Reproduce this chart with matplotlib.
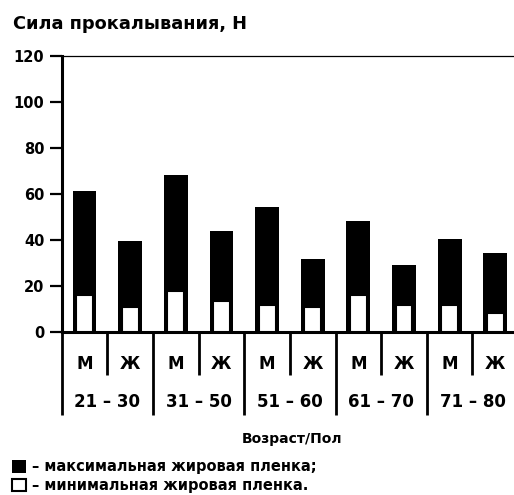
import numpy as np
import matplotlib
matplotlib.use('Agg')
import matplotlib.pyplot as plt
from matplotlib.transforms import blended_transform_factory

plt.rcParams['font.family'] = ['DejaVu Sans']

sexes = ['М', 'Ж'] * 5
age_groups = ['21 – 30', '31 – 50', '51 – 60', '61 – 70', '71 – 80']
max_film = [61, 39.5, 68, 43.7, 54, 31.5, 48, 29, 40.2, 34]
min_film = [16, 10.7, 17.7, 13.3, 11.6, 10.7, 16, 11.6, 11.6, 8.1]

x = np.arange(len(sexes))

fig = plt.figure(figsize=(5.14, 4.95), dpi=100)
ax = fig.add_axes([0.12, 0.33, 0.888, 0.5576])

b_max = ax.bar(x, max_film, width=0.52, color='black', zorder=2)
b_min = ax.bar(x, min_film, width=0.37, color='white', edgecolor='black',
               linewidth=1.5, zorder=3)

ax.set_xlim(-0.5, len(x) - 0.5)
ax.set_ylim(0, 120)
ax.set_yticks(range(0, 121, 20))
ax.tick_params(axis='y', length=8.5, width=1.6, pad=4, labelsize=10.5)
for lab in ax.get_yticklabels():
    lab.set_fontweight('bold')

ax.set_xticks(x, sexes, fontweight='bold', fontsize=12)
ax.tick_params(axis='x', length=0, pad=17)

ax.spines['right'].set_visible(False)
ax.spines['top'].set_linewidth(0.9)
ax.spines['left'].set_linewidth(2.2)
ax.spines['bottom'].set_linewidth(2.2)

# separators under the axis
trans = blended_transform_factory(ax.transData, ax.transAxes)
for i in range(len(x) + 1):
    xb = i - 0.5
    low = -0.302 if i % 2 == 0 else -0.157
    ax.plot([xb, xb], [0, low], color='black', lw=2, transform=trans,
            clip_on=False, solid_capstyle='butt')

for g, label in enumerate(age_groups):
    ax.text(2 * g + 0.5, -0.2475, label, transform=trans, ha='center',
            va='center_baseline', fontweight='bold', fontsize=12)

fig.text(13 / 514, 1 - 22 / 495, 'Сила прокалывания, Н', ha='left',
         va='center_baseline', fontweight='bold', fontsize=12.8)
fig.text(292 / 514, 1 - 437 / 495, 'Возраст/Пол', ha='center',
         va='center_baseline', fontweight='bold', fontsize=10)

fig.legend([b_max, b_min],
           ['– максимальная жировая пленка;', '– минимальная жировая пленка.'],
           loc='lower left', bbox_to_anchor=(12 / 514, 0.004), frameon=False,
           handlelength=0.95, handleheight=0.95, handletextpad=0.45,
           labelspacing=0.25, borderpad=0, borderaxespad=0,
           prop={'size': 10.5, 'weight': 'bold'})

fig.savefig('out.png', dpi=100)
